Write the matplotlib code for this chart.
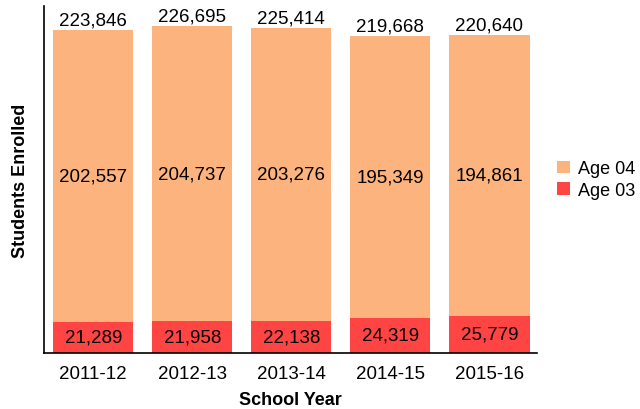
import matplotlib.pyplot as plt
import numpy as np

years = ["2011-12", "2012-13", "2013-14", "2014-15", "2015-16"]
age03 = [21289, 21958, 22138, 24319, 25779]
age04 = [202557, 204737, 203276, 195349, 194861]
totals = [223846, 226695, 225414, 219668, 220640]

plt.rcParams['font.family'] = ['Liberation Sans', 'DejaVu Sans']

fig = plt.figure(figsize=(6.4, 4.1), dpi=100)
fig.set_facecolor('white')
ax = fig.add_axes([0.069, 0.137, 0.77, 0.846])

x_pos = np.arange(len(years))
b3 = ax.bar(x_pos, age03, width=0.81, color="#FF4444", label="Age 03")
b4 = ax.bar(x_pos, age04, width=0.81, bottom=age03, color="#FDB37D", label="Age 04")

for a, v in zip(x_pos, age03):
    ax.text(a, v / 2, "{:,}".format(v), ha='center', va='center', fontsize=13.5)
for a, v, b in zip(x_pos, age04, age03):
    ax.text(a, b + v / 2, "{:,}".format(v), ha='center', va='center', fontsize=13.5)
for a, t in zip(x_pos, totals):
    ax.text(a, t + 800, "{:,}".format(t), ha='center', va='bottom', fontsize=13.5)

ax.set_xlim(-0.495, 4.48)
ax.set_ylim(0, 240600)
ax.set_xticks(x_pos)
ax.set_xticklabels(years, fontsize=13.5)
ax.set_yticks([])
ax.tick_params(axis='x', length=0, pad=9)
ax.spines['top'].set_visible(False)
ax.spines['right'].set_visible(False)
ax.spines['left'].set_linewidth(1.2)
ax.spines['bottom'].set_linewidth(1.2)

ax.set_xlabel("School Year", fontsize=13, fontweight='bold', labelpad=6)
ax.set_ylabel("Students Enrolled", fontsize=13, fontweight='bold', labelpad=11)

handles = [b4, b3]
ax.legend(handles, ["Age 04", "Age 03"], loc='center left', bbox_to_anchor=(1.016, 0.5),
          frameon=False, fontsize=13, handlelength=0.7, handleheight=0.7,
          handletextpad=0.45, labelspacing=0.25, borderaxespad=0.3)

plt.savefig("out.png", dpi=100)
